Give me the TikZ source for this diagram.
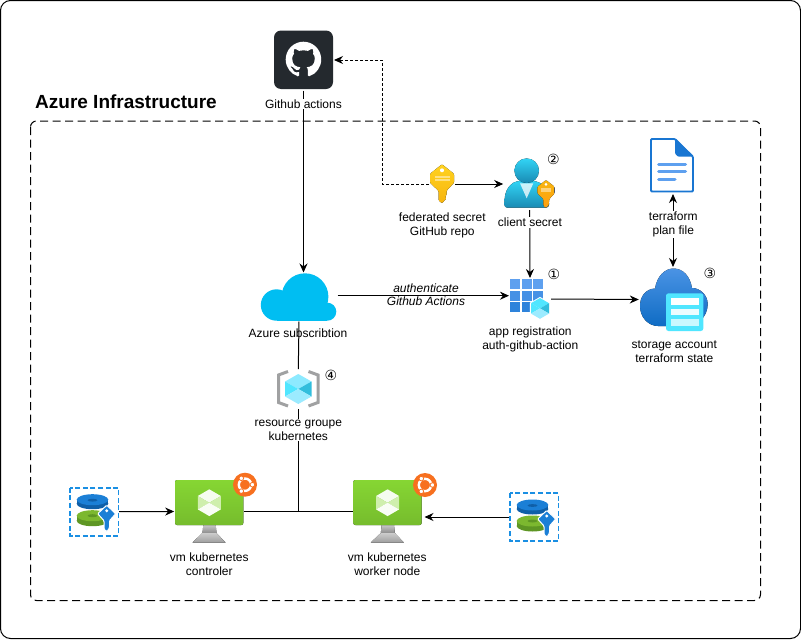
\documentclass[tikz,border=0pt]{standalone}
\usepackage{fontspec}
\setmainfont{Liberation Sans}
\newfontfamily\circfont{DejaVu Sans}
\usepackage{xcolor}
\definecolor{GitDark}{HTML}{24292E}
\definecolor{CloudSky}{HTML}{00BEF2}
\definecolor{KeyGold}{HTML}{FFD21F}
\definecolor{KeyDeep}{HTML}{F7B50F}
\definecolor{KeyOrange}{HTML}{FF9F10}
\definecolor{UserTop}{HTML}{32D4F5}
\definecolor{UserLow}{HTML}{198AB3}
\definecolor{CubeDark}{HTML}{32BEDD}
\definecolor{CubeMid}{HTML}{50E6FF}
\definecolor{CubeLight}{HTML}{9CEBFF}
\definecolor{BlueTop}{HTML}{5EA0EF}
\definecolor{BlueLow}{HTML}{0F6CC4}
\definecolor{FileBlue}{HTML}{1976D2}
\definecolor{VmGreen}{HTML}{86D633}
\definecolor{VmDeep}{HTML}{76BC2D}
\definecolor{UbuOrange}{HTML}{F7701F}
\definecolor{FrameGray}{HTML}{A0A1A2}
\definecolor{DiskBlue}{HTML}{1B7FD6}
\definecolor{DiskDark}{HTML}{0F5FA8}
\definecolor{DiskGreen}{HTML}{7CB82F}
\definecolor{DiskMoss}{HTML}{5E9624}
\definecolor{DashBlue}{HTML}{1A8FE3}
\usetikzlibrary{arrows.meta, svg.path}

\tikzset{
  iconbox/.style 2 args={minimum width=#1pt, minimum height=#2pt, inner sep=0pt, outer sep=1pt},
  lbl/.style={font=\fontsize{12}{14}\selectfont, align=center, inner sep=0pt},
  lblbg/.style={lbl, fill=white, inner ysep=1pt, inner xsep=2pt},
  badge/.style={font=\circfont\fontsize{14}{14}\selectfont, inner sep=0pt},
  wire/.style={line width=1pt},
}

% hexagon cube: cx, cy, half width, half height, top, left, right, low
\newcommand{\hexcube}[8]{
  \begin{scope}[shift={(#1,#2)}]
    \fill[#5] (0,-#4) -- (#3,-#4/2) -- (0,0) -- (-#3,-#4/2) -- cycle;
    \fill[#6] (-#3,-#4/2) -- (0,0) -- (-#3,#4/2) -- cycle;
    \fill[#7] (#3,-#4/2) -- (#3,#4/2) -- (0,0) -- cycle;
    \fill[#8] (-#3,#4/2) -- (0,0) -- (#3,#4/2) -- (0,#4) -- cycle;
  \end{scope}
}

% key: top centre at (#1,#2), scale #3, colours #4 #5
\newcommand{\keyicon}[5]{
  \begin{scope}[shift={(#1,#2)}, scale=#3]
    \fill[top color=#4, bottom color=#5, rounded corners=1pt]
      (0,0) -- (12,9.5) -- (12,18.5) -- (4.5,26.5) -- (4.5,31) -- (3,32.5) -- (4.5,34)
      -- (3,35.5) -- (0,39) -- (-3.5,36) -- (-3.5,26.5) -- (-12,18.5) -- (-12,9.5) -- cycle;
    \fill[white] (0,6) circle (2);
    \fill[white, opacity=.45] (-7.5,11.5) rectangle (7.5,13.5);
    \fill[white, opacity=.45] (-7.5,14.5) rectangle (7.5,16.5);
  \end{scope}
}

% ubuntu badge
\newcommand{\ubuicon}[2]{
  \begin{scope}[shift={(#1,#2)}]
    \fill[UbuOrange] (0,0) circle (12);
    \draw[white, line width=2.4pt] (0,0) circle (6.2);
    \foreach \ang in {0,120,240}
      \filldraw[white, draw=UbuOrange, line width=.8pt] (\ang:7.4) circle (2.3);
  \end{scope}
}

% vm screen with stand, left top corner (#1,#2)
\newcommand{\vmicon}[2]{
  \begin{scope}[shift={(#1,#2)}]
    \fill[top color=black!22, bottom color=black!45] (28.3,45) -- (40.7,45) -- (41.5,53) -- (27.5,53) -- cycle;
    \fill[top color=black!20, bottom color=black!38] (27.5,53) -- (41.5,53) -- (50.5,62.5) -- (17.5,62.5) -- cycle;
    \fill[top color=VmGreen, bottom color=VmDeep, rounded corners=2pt] (0,0) rectangle (68.3,45);
  \end{scope}
  \hexcube{#1+34.3}{#2+22.7}{11.5}{13.4}{white!92!VmGreen}{white!60!VmGreen}{white!60!VmGreen}{white!95!VmGreen}
}

% disks and key with dashed frame, left top corner (#1,#2)
\newcommand{\diskicon}[2]{
  \begin{scope}[shift={(#1,#2)}]
    \draw[DashBlue, line width=1.6pt, dash pattern=on 5pt off 2.6pt] (0,0) rectangle (48.3,48);
    % green disk
    \fill[DiskMoss] (22.5,33) ellipse (15.8 and 5.5);
    \fill[DiskMoss] (6.7,28) rectangle (38.3,33);
    \fill[DiskGreen] (22.5,28) ellipse (15.8 and 5.5);
    \fill[DiskMoss] (22.5,28) ellipse (5 and 1.5);
    % blue disk
    \fill[DiskDark] (22.5,16) ellipse (15.8 and 5.5);
    \fill[DiskDark] (6.7,12) rectangle (38.3,16);
    \fill[DiskBlue] (22.5,12) ellipse (15.8 and 5.5);
    \fill[DiskDark] (22.5,12.5) ellipse (5 and 1.4);
    % key
    \fill[DiskBlue, draw=white, line width=1pt, rounded corners=1pt]
      (36.7,17.5) -- (45.7,26) -- (39.5,33) -- (39.5,40) -- (37,44) -- (34,41.5) -- (34,33) -- (27.7,26) -- cycle;
    \fill[white] (36.7,23) circle (1.6);
  \end{scope}
}

\begin{document}
\begin{tikzpicture}[x=1pt, y=-1pt, >={Stealth[length=9pt, width=8pt]}]
  \useasboundingbox (0,0) rectangle (801,640);
  \fill[white] (0,0) rectangle (801,640);

  % Frames
  \draw[line width=1pt, rounded corners=10pt] (0.5,0.5) rectangle (800.5,638.5);
  \draw[line width=1pt, rounded corners=6pt, dash pattern=on 8pt off 4.5pt] (30.5,121) rectangle (760.5,600.5);
  \node[font=\fontsize{19}{20}\selectfont\bfseries, anchor=west, inner sep=0pt] (title) at (35,102) {Azure Infrastructure};

  % Icon places
  \node[iconbox={59}{59}] (github) at (303.5,60) {};
  \node[iconbox={24}{39}] (keyfed) at (442,184) {};
  \node[iconbox={51}{50}] (user) at (529.7,184) {};
  \node[iconbox={40}{40}] (appreg) at (530,299) {};
  \node[iconbox={68}{63}] (storage) at (673.8,299.5) {};
  \node[iconbox={44}{54}] (planfile) at (673,166) {};
  \node[iconbox={75}{47}] (azure) at (299,297) {};
  \node[iconbox={43}{38}] (resgroup) at (298.3,389) {};
  \node[iconbox={68}{63}] (vmctrl) at (209.2,511.5) {};
  \node[iconbox={68}{63}] (vmwork) at (387.5,511.5) {};
  \node[iconbox={48}{48}] (diskctrl) at (94.2,511.7) {};
  \node[iconbox={48}{48}] (diskwork) at (534.2,517) {};
  \coordinate (bend) at (382.5,60);
  \coordinate (joint) at (298.3,511.5);

  % Connectors
  \draw[wire, ->] (github.south) -- (github.south |- azure.north);
  \draw[->, line width=.9pt, dash pattern=on 3pt off 2pt] (keyfed.west) -| (bend) -- (github.east);
  \draw[wire, ->] (keyfed.east) -- (user.west);
  \draw[wire, ->] (user.south) -- (appreg.north);
  \draw[wire, ->] (azure.east |- 0,295.7) -- (appreg.west |- 0,295.7);
  \draw[wire, ->] (appreg.east) -- (storage.west);
  \draw[wire, <->] (storage.north -| planfile.south) -- (planfile.south);
  \draw[wire] (azure.south) -- (resgroup.north);
  \draw[wire] (resgroup.south) -- (joint);
  \draw[wire] (vmctrl.east) -- (vmwork.west);
  \draw[wire, ->] (diskctrl.east) -- (vmctrl.west);
  \draw[wire, ->, shorten >=2pt] (diskwork.west) -- (diskwork.west -| vmwork.east);

  % Labels
  \node[lblbg] (lgithub) at (303.5,104) {Github actions};
  \node[lbl] (lfed) at (442.3,225) {federated secret\\GitHub repo};
  \node[lblbg] (luser) at (530,222.7) {client secret};
  \node[lblbg] (lplan) at (673.3,224.7) {terraform\\plan file};
  \node[lbl, font=\fontsize{12}{13.4}\selectfont\itshape] (lauth) at (426,295) {authenticate\\Github Actions};
  \node[lbl] (lapp) at (530.3,339.7) {app registration\\auth-github-action};
  \node[lbl] (lstore) at (674.3,352) {storage account\\terraform state};
  \node[lbl] (lazure) at (298,333.7) {Azure subscribtion};
  \node[lblbg] (lres) at (298.3,430) {resource groupe\\kubernetes};
  \node[lbl] (lvmc) at (209.3,564) {vm kubernetes\\controler};
  \node[lbl] (lvmw) at (387.3,564) {vm kubernetes\\worker node};

  % Number marks
  \node[badge] (mone) at (554,274) {①};
  \node[badge] (mtwo) at (553.3,159) {②};
  \node[badge] (mthree) at (710,273.3) {③};
  \node[badge] (mfour) at (331,375) {④};

  % Github
  \fill[GitDark, rounded corners=7pt] (274,30.5) rectangle (333,89);
  \begin{scope}[shift={(285.7,41.7)}, xscale=2.22, yscale=-2.22]
    \fill[white] svg {M 8 0 C 3.58 0 0 3.58 0 8 c 0 3.54 2.29 6.53 5.47 7.59 c 0.4 0.07 0.55 -0.17 0.55 -0.38 c 0 -0.19 -0.01 -0.82 -0.01 -1.49 c -2.01 0.37 -2.53 -0.49 -2.69 -0.94 c -0.09 -0.23 -0.48 -0.94 -0.82 -1.13 c -0.28 -0.15 -0.68 -0.52 -0.01 -0.53 c 0.63 -0.01 1.08 0.58 1.23 0.82 c 0.72 1.21 1.87 0.87 2.33 0.66 c 0.07 -0.52 0.28 -0.87 0.51 -1.07 c -1.78 -0.2 -3.64 -0.89 -3.64 -3.95 c 0 -0.87 0.31 -1.59 0.82 -2.15 c -0.08 -0.2 -0.36 -1.02 0.08 -2.12 c 0 0 0.67 -0.21 2.2 0.82 c 0.64 -0.18 1.32 -0.27 2 -0.27 c 0.68 0 1.36 0.09 2 0.27 c 1.53 -1.04 2.2 -0.82 2.2 -0.82 c 0.44 1.1 0.16 1.92 0.08 2.12 c 0.51 0.56 0.82 1.27 0.82 2.15 c 0 3.07 -1.87 3.75 -3.65 3.95 c 0.29 0.25 0.54 0.73 0.54 1.48 c 0 1.07 -0.01 1.93 -0.01 2.2 c 0 0.21 0.15 0.46 0.55 0.38 C 13.71 14.53 16 11.53 16 8 c 0 -4.42 -3.58 -8 -8 -8 z};
  \end{scope}

  % Keys and user
  \keyicon{442}{164.3}{1}{KeyGold}{KeyDeep}
  \fill[top color=UserTop, bottom color=UserLow, rounded corners=3pt]
    (504.3,207.7) -- (504.5,200) .. controls (506,188) and (512,182) .. (520,181) -- (533,181) .. controls (541,182) and (547,188) .. (549,200) -- (549,207.7) -- cycle;
  \fill[white, opacity=.75] (520,183.3) -- (533.3,183.3) -- (526.7,198.3) -- cycle;
  \fill[top color=UserTop, bottom color=UserLow] (526.7,170.7) circle (12.3);
  \keyicon{546}{180}{.72}{KeyDeep}{KeyOrange}

  % App registration
  \foreach \col in {0,1,2}
    \foreach \row in {0,1,2}
      \fill[BlueTop!\the\numexpr100-\row*35\relax!FileBlue] ({510+\col*11.7},{279+\row*11.7}) rectangle ++(9.9,9.9);
  \filldraw[white] (540,297.2) -- (550,303) -- (550,314) -- (540,319.6) -- (530,314) -- (530,303) -- cycle;
  \hexcube{540}{308.4}{9}{10.4}{CubeMid}{CubeMid}{CubeDark}{CubeLight}

  % Storage
  \fill[top color=BlueTop!75!BlueLow, bottom color=BlueLow] (640,306) .. controls (640,296) and (646,289) .. (655,288.5)
    .. controls (657,276) and (665,268.5) .. (673.5,268.5) .. controls (683,268.5) and (690,276) .. (692,288)
    .. controls (700,288) and (707.7,295) .. (707.7,304) .. controls (707.7,316) and (698,326) .. (688,326)
    -- (658,326) .. controls (648,326) and (640,317) .. (640,306) -- cycle;
  \fill[CubeMid, rounded corners=2.5pt] (666,293.3) rectangle (703.3,331);
  \fill[white] (670.7,298.3) rectangle (699.3,305);
  \fill[white!90!CubeMid] (670.7,309) rectangle (699.3,315);
  \fill[white!70!CubeMid] (670.7,319.3) rectangle (699.3,325.7);

  % Plan file
  \filldraw[white, draw=FileBlue, line width=1.8pt, rounded corners=1pt]
    (651,139) -- (675,139) -- (693,156.7) -- (693,191.5) -- (651,191.5) -- cycle;
  \fill[FileBlue, rounded corners=1pt] (675,138.5) -- (693.7,156.7) -- (678,156.7) -- (675,153.5) -- cycle;
  \draw[BlueTop, line width=3pt, line cap=round] (658.5,164.7) -- (685.5,164.7);
  \draw[BlueTop, line width=3pt, line cap=round] (658.5,171.7) -- (685.5,171.7);
  \draw[BlueTop, line width=3pt, line cap=round] (658.5,179) -- (675,179);

  % Azure cloud
  \fill[CloudSky] (305,296.7) circle (23.4);
  \fill[CloudSky] (276.5,305) circle (15.7);
  \fill[CloudSky] (327.3,311.7) circle (9);
  \fill[CloudSky] (276.5,303) rectangle (327.3,320.7);

  % Resource group
  \draw[FrameGray, line width=3pt] (288,371.5) -- (278.5,375) -- (278.5,402.5) -- (288,406);
  \draw[FrameGray, line width=3pt] (308.5,371.5) -- (318,375) -- (318,402.5) -- (308.5,406);
  \hexcube{298.3}{389}{13.2}{15}{CubeLight!80!CubeMid}{CubeMid}{CubeDark}{CubeLight}

  % VMs and disks
  \vmicon{175}{480}
  \vmicon{353.3}{480}
  \ubuicon{245}{484.7}
  \ubuicon{425}{485}
  \diskicon{70}{487.7}
  \diskicon{510}{493}
\end{tikzpicture}
\end{document}
